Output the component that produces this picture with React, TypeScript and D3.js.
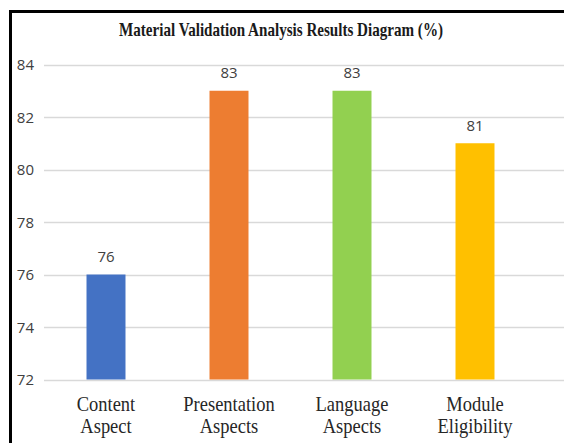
import React, { useEffect, useRef } from 'react';
import * as d3 from 'd3';

const categories = ['Content Aspect', 'Presentation Aspects', 'Language Aspects', 'Module Eligibility'];
const categoryLines = [['Content', 'Aspect'], ['Presentation', 'Aspects'], ['Language', 'Aspects'], ['Module', 'Eligibility']];
const values = [76, 83, 83, 81];
const barColors = ['#4472C4', '#ED7D31', '#92D050', '#FFC000'];
const yTicks = [72, 74, 76, 78, 80, 82, 84];
const title = 'Material Validation Analysis Results Diagram (%)';

const W = 564;
const H = 443;

const App: React.FC = () => {
  const ref = useRef<SVGSVGElement | null>(null);

  useEffect(() => {
    if (!ref.current) return;
    const svg = d3.select(ref.current);
    svg.selectAll('*').remove();

    // frame (only top and left edges show in the crop)
    svg.append('path')
      .attr('d', `M10.5,${H + 5} L10.5,11.5 L${W + 5},11.5`)
      .attr('fill', 'none')
      .attr('stroke', '#000')
      .attr('stroke-width', 3);

    svg.append('text')
      .attr('x', 281)
      .attr('y', 36)
      .attr('text-anchor', 'middle')
      .attr('font-family', '"Liberation Serif", "Times New Roman", serif')
      .attr('font-weight', 'bold')
      .attr('font-size', 19)
      .attr('textLength', 324)
      .attr('lengthAdjust', 'spacingAndGlyphs')
      .attr('fill', '#1a1a1a')
      .text(title);

    const x = d3.scaleBand<string>()
      .domain(categories)
      .range([44.5, 536.5])
      .paddingInner(0.683)
      .paddingOuter(0.3415);

    const y = d3.scaleLinear()
      .domain([72, 84])
      .range([379.5, 64.5]);

    const g = svg.append('g');

    // gridlines
    g.selectAll('line.grid')
      .data(yTicks)
      .enter()
      .append('line')
      .attr('class', 'grid')
      .attr('x1', 44)
      .attr('x2', W)
      .attr('y1', d => Math.round(y(d)) + 0.5)
      .attr('y2', d => Math.round(y(d)) + 0.5)
      .attr('stroke', '#d9d9d9')
      .attr('stroke-width', 1.5);

    // y labels
    g.selectAll('text.ytick')
      .data(yTicks)
      .enter()
      .append('text')
      .attr('class', 'ytick')
      .attr('x', 34)
      .attr('y', d => y(d) + 5.5)
      .attr('text-anchor', 'end')
      .attr('font-family', '"Open Sans", "Noto Sans", sans-serif')
      .attr('font-size', 15)
      .attr('fill', '#404040')
      .text(d => d);

    // bars
    g.selectAll('rect.bar')
      .data(values)
      .enter()
      .append('rect')
      .attr('class', 'bar')
      .attr('x', (_, i) => x(categories[i])!)
      .attr('width', x.bandwidth())
      .attr('y', d => y(d))
      .attr('height', d => y(72) - y(d))
      .attr('fill', (_, i) => barColors[i]);

    // value labels
    g.selectAll('text.val')
      .data(values)
      .enter()
      .append('text')
      .attr('class', 'val')
      .attr('x', (_, i) => x(categories[i])! + x.bandwidth() / 2)
      .attr('y', d => y(d) - 12.5)
      .attr('text-anchor', 'middle')
      .attr('font-family', '"Open Sans", "Noto Sans", sans-serif')
      .attr('font-size', 15)
      .attr('fill', '#404040')
      .text(d => d);

    // category labels, slightly condensed serif
    categoryLines.forEach((lines, i) => {
      const cx = x(categories[i])! + x.bandwidth() / 2;
      const t = g.append('text')
        .attr('transform', `translate(${cx},411) scale(0.88,1)`)
        .attr('text-anchor', 'middle')
        .attr('font-family', '"Liberation Serif", "Times New Roman", serif')
        .attr('font-size', 21)
        .attr('fill', '#262626');
      lines.forEach((ln, j) => {
        t.append('tspan')
          .attr('x', 0)
          .attr('y', j * 22)
          .text(ln);
      });
    });
  }, []);

  return (
    <svg
      ref={ref}
      width={W}
      height={H}
      style={{ position: 'fixed', left: 0, top: 0, background: '#fff' }}
    />
  );
};

export default App;
